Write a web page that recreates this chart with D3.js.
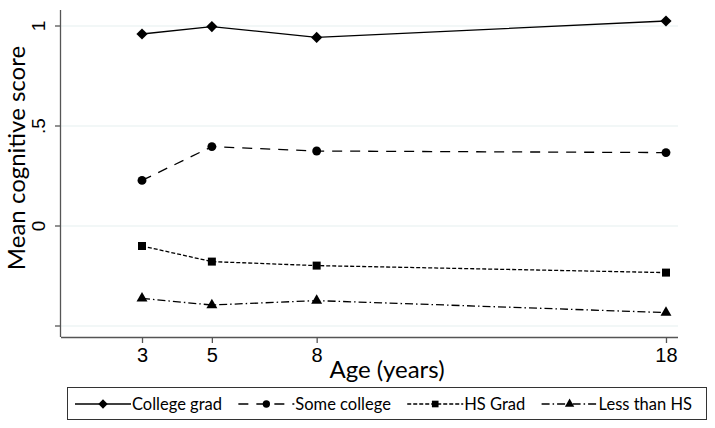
<!DOCTYPE html>
<html>
<head>
<meta charset="utf-8">
<script src="https://cdn.jsdelivr.net/npm/d3@7"></script>
<style>
  body { margin: 0; background: #fff; }
  svg { display: block; font-family: 'Lato', 'Open Sans', sans-serif; }
</style>
</head>
<body>
<svg id="chart"></svg>
<script>
// ages measured (x axis)
const ages = [3, 5, 8, 18]
// series values
const collegeGrad = [0.96, 0.997, 0.943, 1.025]
const someCollege = [0.228, 0.397, 0.375, 0.367]
const hsGrad = [-0.10, -0.178, -0.198, -0.233]
const lessThanHS = [-0.362, -0.395, -0.373, -0.433]
const seriesNames = ['College grad', 'Some college', 'HS Grad', 'Less than HS']
const yTicks = [1, 0.5, 0, -0.5]
const yTickLabels = ['1', '.5', '0', '']

const width = 715
const height = 428
const plot = { left: 61, right: 678, top: 10, bottom: 337 }

const svg = d3.select('#chart').attr('width', width).attr('height', height)

const x = d3.scaleLinear().domain([0.681, 18.344]).range([plot.left, plot.right])
const y = d3.scaleLinear().domain([-0.555, 1.08]).range([plot.bottom, plot.top])

const styles = [
  { values: collegeGrad, dash: null, marker: d3.symbolDiamond2, size: 80, legendSize: 55 },
  { values: someCollege, dash: '10,8', marker: d3.symbolCircle, size: 62, legendSize: 42 },
  { values: hsGrad, dash: '4,2', marker: d3.symbolSquare, size: 64, legendSize: 44 },
  { values: lessThanHS, dash: '8,3,1.5,3', marker: d3.symbolTriangle, size: 52, legendSize: 38 }
]

// gridlines
svg.append('g').selectAll('line').data(yTicks).enter().append('line')
  .attr('x1', plot.left)
  .attr('x2', plot.right)
  .attr('y1', d => y(d))
  .attr('y2', d => y(d))
  .style('stroke', '#e6efef')
  .style('stroke-width', 1.2)

// y axis
const yAxis = d3.axisLeft(y).tickValues(yTicks).tickSize(6).tickPadding(10)
  .tickFormat((d, i) => yTickLabels[i])
const gy = svg.append('g')
  .attr('transform', `translate(${plot.left},0)`)
  .call(yAxis)
gy.select('.domain').attr('d', `M-0.5,${plot.top}V${plot.bottom}`)
gy.selectAll('text')
  .attr('transform', function (d) { return `rotate(-90,-16,${y(d)})` })
  .attr('x', -16)
  .attr('y', d => y(d))
  .attr('dy', 0)
  .attr('text-anchor', 'middle')
  .style('font-size', '19px')
gy.selectAll('.tick').attr('transform', null)
gy.selectAll('.tick line').attr('y1', d => y(d)).attr('y2', d => y(d))

// x axis
const xAxis = d3.axisBottom(x).tickValues(ages).tickSize(6).tickPadding(5)
const gx = svg.append('g')
  .attr('transform', `translate(0,${plot.bottom})`)
  .call(xAxis)
gx.select('.domain').attr('d', `M${plot.left},0.5H${plot.right}`)
gx.selectAll('text').style('font-size', '20px')

svg.selectAll('.domain, .tick line').style('stroke', '#555').style('stroke-width', 1.3)
svg.selectAll('.tick text').style('fill', '#000')

// axis titles
svg.append('text')
  .attr('transform', `translate(25,158) rotate(-90)`)
  .attr('text-anchor', 'middle')
  .style('font-size', '24px')
  .text('Mean cognitive score')
svg.append('text')
  .attr('x', 387)
  .attr('y', 378)
  .attr('text-anchor', 'middle')
  .style('font-size', '24px')
  .text('Age (years)')

// series lines and markers
const line = d3.line().x((d, i) => x(ages[i])).y(d => y(d))
styles.forEach(s => {
  svg.append('path')
    .attr('d', line(s.values))
    .style('fill', 'none')
    .style('stroke', '#000')
    .style('stroke-width', 1.3)
    .style('stroke-dasharray', s.dash)
  svg.append('g').selectAll('path').data(s.values).enter().append('path')
    .attr('d', d3.symbol().type(s.marker).size(s.size))
    .attr('transform', (d, i) => `translate(${x(ages[i])},${y(d)})`)
    .style('fill', '#000')
})

// legend
const legend = svg.append('g')
legend.append('rect')
  .attr('x', 67.5)
  .attr('y', 387.5)
  .attr('width', 639)
  .attr('height', 32)
  .style('fill', '#fff')
  .style('stroke', '#333')
  .style('stroke-width', 1)

const keyLen = 56
const items = legend.selectAll('g.item').data(seriesNames).enter().append('g').attr('class', 'item')
items.append('text')
  .attr('y', 410)
  .style('font-size', '16.5px')
  .text(d => d)
const widths = []
items.selectAll('text').each(function () { widths.push(this.getComputedTextLength()) })
const innerStart = 75
const innerEnd = 692
const used = d3.sum(widths) + seriesNames.length * (keyLen + 1)
const gap = (innerEnd - innerStart - used) / (seriesNames.length - 1)
let cursor = innerStart
items.each(function (d, i) {
  const g = d3.select(this)
  const s = styles[i]
  g.append('line')
    .attr('x1', cursor)
    .attr('x2', cursor + keyLen)
    .attr('y1', 404)
    .attr('y2', 404)
    .style('stroke', '#000')
    .style('stroke-width', 1.3)
    .style('stroke-dasharray', s.dash)
  g.append('path')
    .attr('d', d3.symbol().type(s.marker).size(s.legendSize))
    .attr('transform', `translate(${cursor + keyLen / 2},404)`)
    .style('fill', '#000')
  g.select('text').attr('x', cursor + keyLen + 1)
  cursor += keyLen + 1 + widths[i] + gap
})
</script>
</body>
</html>
